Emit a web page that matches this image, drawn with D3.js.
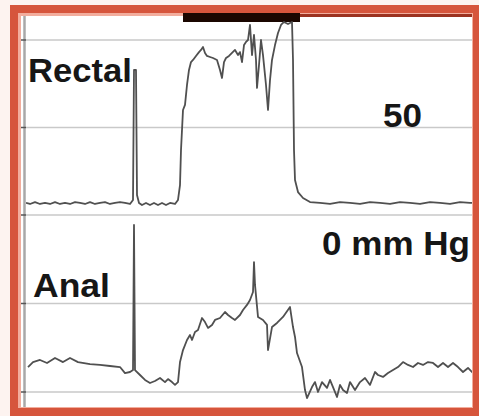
<!DOCTYPE html>
<html lang="en">

<head>
    <meta charset="UTF-8">
    <title>Rectal / Anal pressure</title>
    <script src="https://cdnjs.cloudflare.com/ajax/libs/d3/7.8.5/d3.min.js"></script>
    <style>
        body { margin: 0; background: #fff; }
    </style>
</head>

<body>
    <div id="chart"></div>
    <script>
        // 時間 (秒) / 壓力 (mm Hg)
        const rectalTime = [0, 0.4, 0.9, 1.4, 1.9, 2.4, 2.9, 3.4, 3.9, 4.4, 4.9, 5.4, 5.9, 6.4, 6.9, 7.4, 7.9, 8.4, 8.9, 9.4, 9.9, 10.4,
            10.7, 10.8, 11.0, 11.1, 11.3, 11.6,
            12.0, 12.4, 12.8, 13.2, 13.6, 14.0, 14.4, 14.9,
            15.2, 15.4, 15.5, 15.7, 15.9, 16.1, 16.3, 16.5, 16.7,
            17.0, 17.3, 17.5, 17.7, 17.9, 18.1, 18.4, 18.7, 19.1, 19.4, 19.6, 19.8,
            20.0, 20.3, 20.6, 20.9, 21.2, 21.4, 21.6, 21.8, 22.0, 22.2, 22.4, 22.6, 22.8,
            23.0, 23.1, 23.3, 23.5, 23.7, 24.0, 24.2, 24.4, 24.6, 24.9,
            25.2, 25.5, 25.8, 26.2, 26.6, 26.7, 26.8, 26.9, 27.2, 27.7, 28.4, 29.4,
            30.4, 31.4, 32.4, 33.4, 34.4, 35.4, 36.4, 37.4, 38.4, 39.4, 40.4, 41.4, 42.4, 43.4, 44.4, 44.8];
        const rectalP = [6.9, 6.3, 7.4, 6.3, 6.9, 6.3, 7.4, 6.3, 6.9, 6.3, 7.4, 6.9, 6.3, 7.4, 6.3, 6.9, 7.4, 6.3, 6.9, 7.4, 6.9, 6.3,
            8.6, 82.9, 82.9, 11.4, 6.9, 5.7,
            6.9, 5.7, 6.9, 5.7, 6.9, 5.7, 6.9, 6.3,
            8.6, 17.1, 37.1, 60, 62.9, 74.3, 82.9, 87.4, 88.6,
            90.9, 93.1, 94.3, 96, 92.6, 90.9, 90.3, 89.7, 88.6, 82.9, 78.3, 87.4,
            89.7, 90.9, 92.6, 94.3, 91.4, 93.1, 87.4, 97.1, 98.9, 100, 108.6, 91.4, 102.9,
            88.6, 72.6, 85.7, 100, 91.4, 74.3, 60, 77.1, 88.6, 97.1,
            104, 108.6, 110.3, 109.1, 110.3, 88.6, 37.1, 20, 13.1, 9.7, 7.4, 6.9,
            6.3, 7.4, 6.9, 6.3, 7.4, 6.9, 6.3, 7.4, 6.9, 6.3, 7.4, 6.9, 6.3, 7.4, 6.9, 6.9];

        const analTime = [0.2, 0.7, 1.4, 2.1, 2.9, 3.7, 4.4, 5.2, 6.4, 7.4,
            8.4, 9.4, 9.9, 10.4, 10.7, 10.8, 10.9, 11.4, 11.9, 12.4,
            12.9, 13.4, 13.9, 14.2, 14.6, 14.9, 15.2, 15.4, 15.7, 16.1,
            16.4, 16.6, 16.9, 17.2, 17.6, 17.9, 18.2, 18.6, 18.9, 19.4,
            19.9, 20.2, 20.6, 20.9, 21.4, 21.7, 22.1, 22.4, 22.7, 22.8,
            22.9, 23.2, 23.7, 24.1, 24.2, 24.6, 25.1, 25.7, 26.4, 26.7,
            26.9, 27.1, 27.6, 27.9, 28.1, 28.6, 28.9, 29.2, 29.6, 30.1,
            30.4, 30.7, 31.1, 31.4, 31.7, 32.1, 32.4, 32.9, 33.4, 33.9,
            34.4, 34.9, 35.2, 35.7, 36.2, 36.7, 37.2, 37.7, 38.2, 38.7,
            39.2, 39.7, 40.2, 40.7, 41.2, 41.7, 42.2, 42.7, 43.2, 43.7,
            44.2, 44.7];
        const analP = [14.1, 16.9, 18.1, 16.4, 19.2, 16.9, 19.2, 16.9, 15.8, 15.3,
            14.7, 14.1, 10.7, 11.3, 12.4, 94.4, 12.4, 9.6, 6.8, 5.1,
            6.2, 7.9, 5.6, 7.3, 5.6, 4.0, 5.6, 16.9, 23.7, 29.4,
            32.2, 29.4, 33.9, 35.0, 41.8, 39.5, 36.2, 37.9, 40.7, 41.8,
            45.2, 43.5, 41.8, 40.7, 43.5, 46.3, 49.2, 52.0, 56.5, 73.4,
            60.5, 42.4, 40.7, 37.9, 23.7, 36.7, 39.0, 42.4, 48.0, 36.7,
            31.1, 22.0, 14.1, 1.1, -3.4, 2.8, 5.6, 0, 5.6, 2.3,
            6.8, 2.8, -2.8, 4.0, 1.1, -0.6, 5.6, 1.1, 5.6, 7.9,
            4.0, 11.3, 9.6, 8.5, 10.7, 12.4, 14.1, 16.9, 15.3, 14.1,
            16.4, 15.3, 16.9, 16.4, 14.1, 16.4, 14.1, 16.4, 14.1, 11.3,
            13.6, 10.7];

        // 格線刻度 (mm Hg)
        const rectalTicks = [0, 50, 100];
        const analTicks = [0, 50];
        // 上方事件標記 (秒)
        const eventBar = [15.7, 27.4];

        const W = 479, H = 416;
        const svg = d3.select('#chart')
            .append('svg')
            .attr('width', W)
            .attr('height', H);

        const x = d3.scaleLinear().domain([0, 45]).range([26, 476]);
        const yR = d3.scaleLinear().domain([0, 100]).range([215, 40]);
        const yA = d3.scaleLinear().domain([0, 100]).range([392, 215]);

        // 外框
        svg.append('rect').attr('width', W).attr('height', H).attr('fill', '#fdf3f0');
        svg.append('rect').attr('x', 10).attr('y', 5).attr('width', 469).attr('height', 411).attr('fill', '#d6553c');
        svg.append('rect').attr('x', 18).attr('y', 13).attr('width', 455).attr('height', 395).attr('fill', '#f2ad9d');
        svg.append('rect').attr('x', 21).attr('y', 16).attr('width', 451).attr('height', 391).attr('fill', '#fff');

        // 格線
        const grid = svg.append('g');
        rectalTicks.forEach(function (t) {
            grid.append('line')
                .attr('x1', 26).attr('x2', 472)
                .attr('y1', yR(t)).attr('y2', yR(t))
                .attr('stroke', '#c9c9c9').attr('stroke-width', 1.6);
        });
        analTicks.forEach(function (t) {
            grid.append('line')
                .attr('x1', 26).attr('x2', 472)
                .attr('y1', yA(t)).attr('y2', yA(t))
                .attr('stroke', '#c9c9c9').attr('stroke-width', 1.6);
        });

        // 左軸
        svg.append('line')
            .attr('x1', 24.5).attr('x2', 24.5).attr('y1', 16).attr('y2', 407)
            .attr('stroke', '#a8a8a8').attr('stroke-width', 2.5);
        rectalTicks.map(yR).concat(analTicks.map(yA)).forEach(function (yy) {
            svg.append('line')
                .attr('x1', 21).attr('x2', 26).attr('y1', yy).attr('y2', yy)
                .attr('stroke', '#555').attr('stroke-width', 1.5);
        });

        // 上方事件標記
        svg.append('rect')
            .attr('x', x(eventBar[0])).attr('y', 14)
            .attr('width', 472 - x(eventBar[0])).attr('height', 3)
            .attr('fill', '#9c3220');
        svg.append('rect')
            .attr('x', x(eventBar[0])).attr('y', 13)
            .attr('width', x(eventBar[1]) - x(eventBar[0])).attr('height', 9)
            .attr('fill', '#1a0600');

        // 曲線
        const clip = svg.append('clipPath').attr('id', 'plot')
            .append('rect').attr('x', 26).attr('y', 21).attr('width', 446).attr('height', 386);

        const rectalLine = d3.line()
            .x(function (d) { return x(d[0]); })
            .y(function (d) { return yR(d[1]); });
        const analLine = d3.line()
            .x(function (d) { return x(d[0]); })
            .y(function (d) { return yA(d[1]); });

        svg.append('path')
            .attr('d', rectalLine(d3.zip(rectalTime, rectalP)))
            .attr('clip-path', 'url(#plot)')
            .attr('fill', 'none').attr('stroke', '#505050')
            .attr('stroke-width', 1.8).attr('stroke-linejoin', 'round');
        svg.append('path')
            .attr('d', analLine(d3.zip(analTime, analP)))
            .attr('clip-path', 'url(#plot)')
            .attr('fill', 'none').attr('stroke', '#505050')
            .attr('stroke-width', 1.8).attr('stroke-linejoin', 'round');

        // 文字
        const labels = [
            { text: 'Rectal', x: 28, y: 82, w: 104 },
            { text: '50', x: 383, y: 127, w: 39 },
            { text: '0 mm Hg', x: 322, y: 255, w: 148 },
            { text: 'Anal', x: 33, y: 297, w: 77 }
        ];
        svg.selectAll('text.lbl')
            .data(labels)
            .enter()
            .append('text')
            .attr('class', 'lbl')
            .attr('x', function (d) { return d.x; })
            .attr('y', function (d) { return d.y; })
            .attr('textLength', function (d) { return d.w; })
            .attr('lengthAdjust', 'spacingAndGlyphs')
            .attr('font-family', '"Liberation Sans", Arial, sans-serif')
            .attr('font-weight', 'bold')
            .attr('font-size', 34)
            .attr('fill', '#161616')
            .text(function (d) { return d.text; });
    </script>
</body>

</html>
